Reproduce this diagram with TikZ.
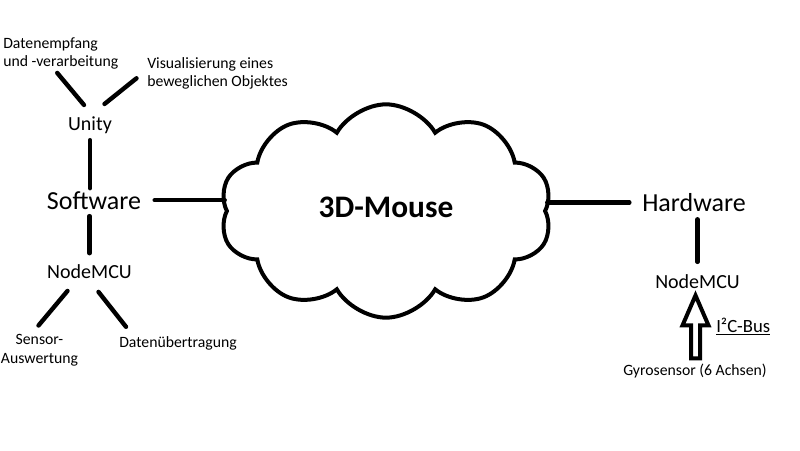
\documentclass[tikz,border=0pt]{standalone}
\usepackage{fontspec}
\setmainfont{Carlito}
\usetikzlibrary{positioning,calc,shapes.symbols}

\begin{document}
\begin{tikzpicture}[%
    x=0.75pt, y=-0.75pt,        % one unit is one pixel of the sketch, y runs down
    node distance=40pt,         % Global setup of label spacing
    every node/.style={inner sep=0pt}
    ]

\tikzset{
    base/.style={align=center},
    hub/.style={base, anchor=base, font={\fontsize{19.5}{23}\selectfont}},
    part/.style={base, anchor=base, font={\fontsize{15}{18}\selectfont}},
    note/.style={base, font={\fontsize{11.8}{13.8}\selectfont}},
    mouse/.style={cloud, draw, line width=3pt, cloud puffs=10, cloud puff arc=120,
        aspect=1.55, minimum width=249pt, minimum height=160pt, text depth=6pt,
        font={\fontsize{23.5}{28}\selectfont\bfseries}},
    % Connectors
    link/.style={line width=3.3pt, line cap=round},
    fat/.style={line width=3pt, line join=miter, fill=white},
}
\useasboundingbox (0,0) rectangle (800,450);

%% Centre
\node [mouse] (mouse) at (386,211) {3D-Mouse};

%% Software side
\node [hub] (soft) at (94,209) {Software};
    \draw [link, shorten <=10pt] (soft.east) -- (soft -| mouse.west);
\node [part] (unity) at (90,130) {Unity};
    \draw [link, shorten <=5pt, shorten >=2pt] (unity.south) -- (unity.south |- soft.north);
\node [part] (nodeL) at (89.5,278) {NodeMCU};
    \draw [link, shorten <=5pt, shorten >=8pt] (nodeL.north |- soft.south) -- (nodeL.north);

%% Unity branches
\node [note, anchor=north west, align=left] (empf) at (3,37) {Datenempfang\\und -verarbeitung};
\node [note, anchor=north west, align=left] (visu) at (147,57) {Visualisierung eines\\beweglichen Objektes};
    \draw [link] ($(empf.south)+(-3.5,3.5)$) -- ($(unity.north)+(-6,-11)$);
    \draw [link] ($(visu.west)+(-10.5,5)$) -- ($(unity.north)+(14.5,-12)$);

%% NodeMCU branches
\node [note, anchor=north] (sens) at (39.5,334.5) {Sensor-\\Auswertung};
\node [note, anchor=base] (daten) at (178,347) {Datenübertragung};
    \draw [link] ($(nodeL.south)+(-22,12.5)$) -- ($(sens.north)+(-1,-9)$);
    \draw [link] ($(nodeL.south)+(9,13.5)$) -- ($(daten.north west)+(7,-9)$);

%% Hardware side
\node [hub] (hard) at (694,211.5) {Hardware};
    \draw [link, shorten >=9.5pt] (hard -| mouse.east) -- (hard.west);
\node [part] (nodeR) at (697.5,288) {NodeMCU};
    \draw [link, shorten <=5.5pt, shorten >=9pt] (nodeR.north |- hard.south) -- (nodeR.north);

%% Sensor bus
\node [note, anchor=base] (gyro) at (695,375) {Gyrosensor (6 Achsen)};
\node [base, anchor=base west, font={\fontsize{14}{17}\selectfont}] (bus) at (716,332) {\underline{I²C-Bus}};
    \draw [fat] ($(nodeR.south)+(-2,7)$) -- ++(13,30) -- ++(-8.5,0) -- ++(0,33)
        -- ++(-9,0) -- ++(0,-33) -- ++(-8.5,0) -- cycle;
\end{tikzpicture}
\end{document}
